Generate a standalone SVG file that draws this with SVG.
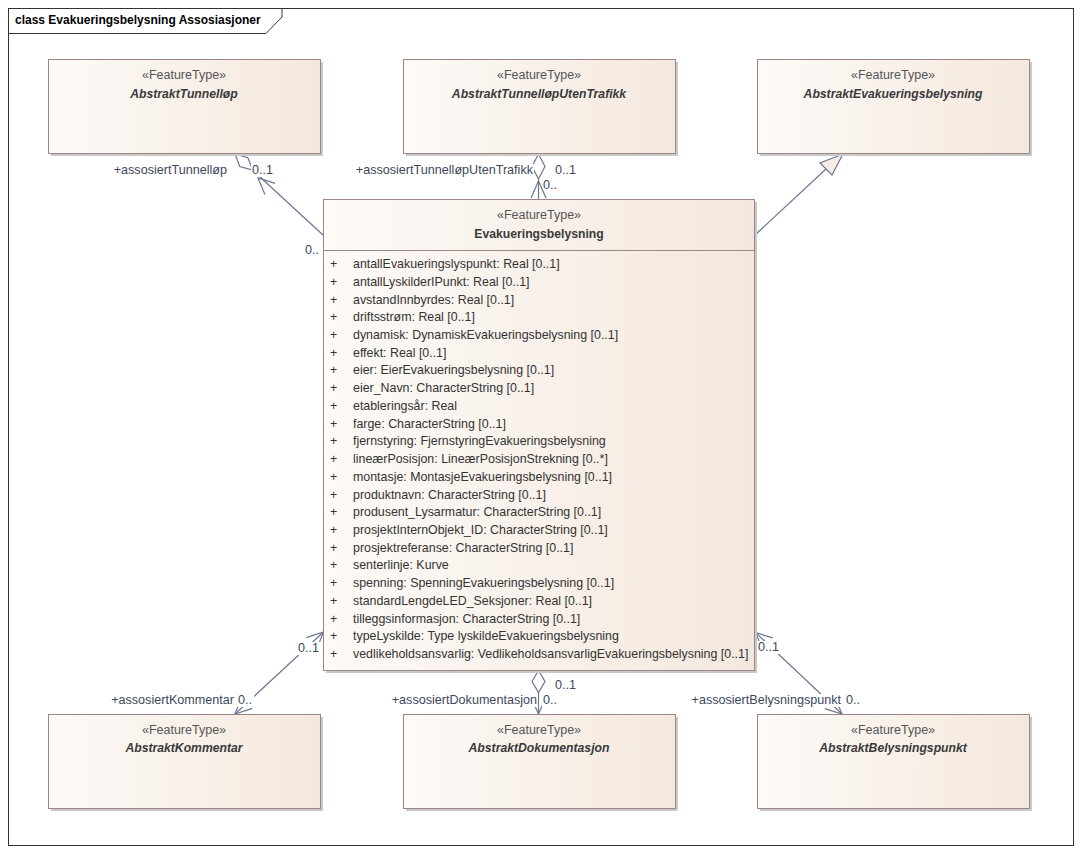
<svg xmlns="http://www.w3.org/2000/svg" width="1082" height="854" viewBox="0 0 1082 854">
<defs>
<linearGradient id="g" x1="0" y1="0" x2="1" y2="0">
<stop offset="0" stop-color="#fdfaf7"/>
<stop offset="1" stop-color="#f4e8de"/>
</linearGradient>
<style>
text{font-family:"Liberation Sans",Arial,sans-serif;font-size:12.4px;fill:#333}
.box{fill:url(#g);stroke:#9c8585;stroke-width:1}
.sh{fill:#c9c9c9}
.st{fill:#555;text-anchor:middle;font-size:12.5px}
.nm{font-weight:bold;font-style:italic;text-anchor:middle;fill:#3a3a3a;font-size:12.2px}
.nb{font-weight:bold;text-anchor:middle;fill:#3a3a3a;font-size:12.2px}
.ln{stroke:#6b7590;stroke-width:1.2;fill:none}
.dm{stroke:#6b7590;stroke-width:1.2;fill:#fff}
.lb{fill:#3d465c;font-size:12.6px}
.bg{fill:#fff}
.e{text-anchor:end}
</style>
</defs>
<rect x="0" y="0" width="1082" height="854" fill="#fff"/>
<g id="frame">
<rect x="8.5" y="8.5" width="1065" height="837" fill="none" stroke="#333" stroke-width="1"/>
<polyline points="8.5,33.5 266,33.5 282,17 282,8.5" fill="none" stroke="#333" stroke-width="1"/>
<text x="15" y="24" style="font-weight:bold;fill:#000;font-size:12px">class Evakueringsbelysning Assosiasjoner</text>
</g>
<g id="connectors">
<line class="ln" x1="323" y1="235" x2="252.7" y2="170.2"/>
<polygon class="dm" points="235,154 247.9,157.7 252.7,170.2 239.7,166.5"/>
<polyline class="ln" points="264.9,194.6 258,178 275.2,183.4"/>
<line class="ln" x1="538.5" y1="199" x2="538.5" y2="179"/>
<polygon class="dm" points="538.5,154 545,166.5 538.5,179 532,166.5"/>
<polyline class="ln" points="531,198 538.5,181 546,198"/>
<line class="ln" x1="755" y1="235" x2="826" y2="169"/>
<polygon points="843,154 820,163 832,175" style="fill:#f6ece4;stroke:#6b7590;stroke-width:1.2"/>
<line class="ln" x1="323.5" y1="632" x2="235" y2="714"/>
<polyline class="ln" points="316.8,648.7 323.5,632 306.4,637.6"/>
<polyline class="ln" points="241.7,697.3 235,714 252.2,708.4"/>
<polygon class="dm" points="538.5,670.5 545,681.5 538.5,692.5 532,681.5"/>
<line class="ln" x1="538.5" y1="692.5" x2="538.5" y2="714"/>
<polyline class="ln" points="531,697 538.5,714 546,697"/>
<line class="ln" x1="755" y1="632" x2="842" y2="714"/>
<polyline class="ln" points="772.7,637.9 755.5,632.5 762.4,649.1"/>
<polyline class="ln" points="824.8,708.6 842,714 835.1,697.4"/>
<rect class="bg" x="116" y="164" width="112" height="13"/>
<text class="lb e" x="227" y="174">+assosiertTunnelløp</text>
<rect class="bg" x="251" y="164" width="23" height="13"/>
<text class="lb" x="252" y="174">0..1</text>
<text class="lb" x="305" y="254">0..</text>
<rect class="bg" x="356" y="164" width="178" height="13"/>
<text class="lb e" x="533" y="174">+assosiertTunnelløpUtenTrafikk</text>
<text class="lb" x="555" y="174">0..1</text>
<text class="lb" x="543" y="189">0..</text>
<rect class="bg" x="297" y="642" width="24" height="13"/>
<text class="lb" x="298" y="652">0..1</text>
<rect class="bg" x="111" y="694" width="124" height="13"/>
<text class="lb e" x="234" y="704">+assosiertKommentar</text>
<rect class="bg" x="237" y="694" width="17" height="13"/>
<text class="lb" x="238" y="704">0..</text>
<rect class="bg" x="394" y="694" width="144" height="13"/>
<text class="lb e" x="537" y="704">+assosiertDokumentasjon</text>
<rect class="bg" x="542" y="694" width="16" height="13"/>
<text class="lb" x="543" y="704">0..</text>
<text class="lb" x="555" y="689">0..1</text>
<rect class="bg" x="757" y="641" width="25" height="13"/>
<text class="lb" x="758" y="651">0..1</text>
<rect class="bg" x="694" y="694" width="148" height="13"/>
<text class="lb e" x="841" y="704">+assosiertBelysningspunkt</text>
<rect class="bg" x="845" y="694" width="16" height="13"/>
<text class="lb" x="846" y="704">0..</text>
</g>
<g id="AbstraktTunnellop">
<rect class="sh" x="51" y="62" width="272" height="94"/>
<rect class="box" x="48.5" y="59.5" width="272" height="94"/>
<text class="st" x="184" y="79">«FeatureType»</text>
<text class="nm" x="184" y="98">AbstraktTunnelløp</text>
</g>
<g id="AbstraktTunnellopUtenTrafikk">
<rect class="sh" x="406" y="62" width="272" height="94"/>
<rect class="box" x="403.5" y="59.5" width="272" height="94"/>
<text class="st" x="539" y="79">«FeatureType»</text>
<text class="nm" x="539" y="98">AbstraktTunnelløpUtenTrafikk</text>
</g>
<g id="AbstraktEvakueringsbelysning">
<rect class="sh" x="760" y="62" width="272" height="94"/>
<rect class="box" x="757.5" y="59.5" width="272" height="94"/>
<text class="st" x="893" y="79">«FeatureType»</text>
<text class="nm" x="893" y="98">AbstraktEvakueringsbelysning</text>
</g>
<g id="Evakueringsbelysning">
<rect class="sh" x="326" y="202" width="431" height="471"/>
<rect class="box" x="323.5" y="199.5" width="431" height="471"/>
<line x1="323.5" y1="250.5" x2="754.5" y2="250.5" stroke="#9c8585" stroke-width="1"/>
<text class="st" x="539" y="219">«FeatureType»</text>
<text class="nb" x="539" y="238">Evakueringsbelysning</text>
<g>
<text x="330" y="268">+</text><text x="353" y="268">antallEvakueringslyspunkt: Real [0..1]</text>
<text x="330" y="285.7">+</text><text x="353" y="285.7">antallLyskilderIPunkt: Real [0..1]</text>
<text x="330" y="303.5">+</text><text x="353" y="303.5">avstandInnbyrdes: Real [0..1]</text>
<text x="330" y="321.2">+</text><text x="353" y="321.2">driftsstrøm: Real [0..1]</text>
<text x="330" y="338.9">+</text><text x="353" y="338.9">dynamisk: DynamiskEvakueringsbelysning [0..1]</text>
<text x="330" y="356.6">+</text><text x="353" y="356.6">effekt: Real [0..1]</text>
<text x="330" y="374.4">+</text><text x="353" y="374.4">eier: EierEvakueringsbelysning [0..1]</text>
<text x="330" y="392.1">+</text><text x="353" y="392.1">eier_Navn: CharacterString [0..1]</text>
<text x="330" y="409.8">+</text><text x="353" y="409.8">etableringsår: Real</text>
<text x="330" y="427.6">+</text><text x="353" y="427.6">farge: CharacterString [0..1]</text>
<text x="330" y="445.3">+</text><text x="353" y="445.3">fjernstyring: FjernstyringEvakueringsbelysning</text>
<text x="330" y="463">+</text><text x="353" y="463">lineærPosisjon: LineærPosisjonStrekning [0..*]</text>
<text x="330" y="480.8">+</text><text x="353" y="480.8">montasje: MontasjeEvakueringsbelysning [0..1]</text>
<text x="330" y="498.5">+</text><text x="353" y="498.5">produktnavn: CharacterString [0..1]</text>
<text x="330" y="516.2">+</text><text x="353" y="516.2">produsent_Lysarmatur: CharacterString [0..1]</text>
<text x="330" y="533.9">+</text><text x="353" y="533.9">prosjektInternObjekt_ID: CharacterString [0..1]</text>
<text x="330" y="551.7">+</text><text x="353" y="551.7">prosjektreferanse: CharacterString [0..1]</text>
<text x="330" y="569.4">+</text><text x="353" y="569.4">senterlinje: Kurve</text>
<text x="330" y="587.1">+</text><text x="353" y="587.1">spenning: SpenningEvakueringsbelysning [0..1]</text>
<text x="330" y="604.9">+</text><text x="353" y="604.9">standardLengdeLED_Seksjoner: Real [0..1]</text>
<text x="330" y="622.6">+</text><text x="353" y="622.6">tilleggsinformasjon: CharacterString [0..1]</text>
<text x="330" y="640.3">+</text><text x="353" y="640.3">typeLyskilde: Type lyskildeEvakueringsbelysning</text>
<text x="330" y="658">+</text><text x="353" y="658">vedlikeholdsansvarlig: VedlikeholdsansvarligEvakueringsbelysning [0..1]</text>
</g>
</g>
<g id="AbstraktKommentar">
<rect class="sh" x="51" y="717" width="272" height="94"/>
<rect class="box" x="48.5" y="714.5" width="272" height="94"/>
<text class="st" x="184" y="734">«FeatureType»</text>
<text class="nm" x="184" y="752">AbstraktKommentar</text>
</g>
<g id="AbstraktDokumentasjon">
<rect class="sh" x="406" y="717" width="272" height="94"/>
<rect class="box" x="403.5" y="714.5" width="272" height="94"/>
<text class="st" x="539" y="734">«FeatureType»</text>
<text class="nm" x="539" y="752">AbstraktDokumentasjon</text>
</g>
<g id="AbstraktBelysningspunkt">
<rect class="sh" x="760" y="717" width="272" height="94"/>
<rect class="box" x="757.5" y="714.5" width="272" height="94"/>
<text class="st" x="893" y="734">«FeatureType»</text>
<text class="nm" x="893" y="752">AbstraktBelysningspunkt</text>
</g>
</svg>
